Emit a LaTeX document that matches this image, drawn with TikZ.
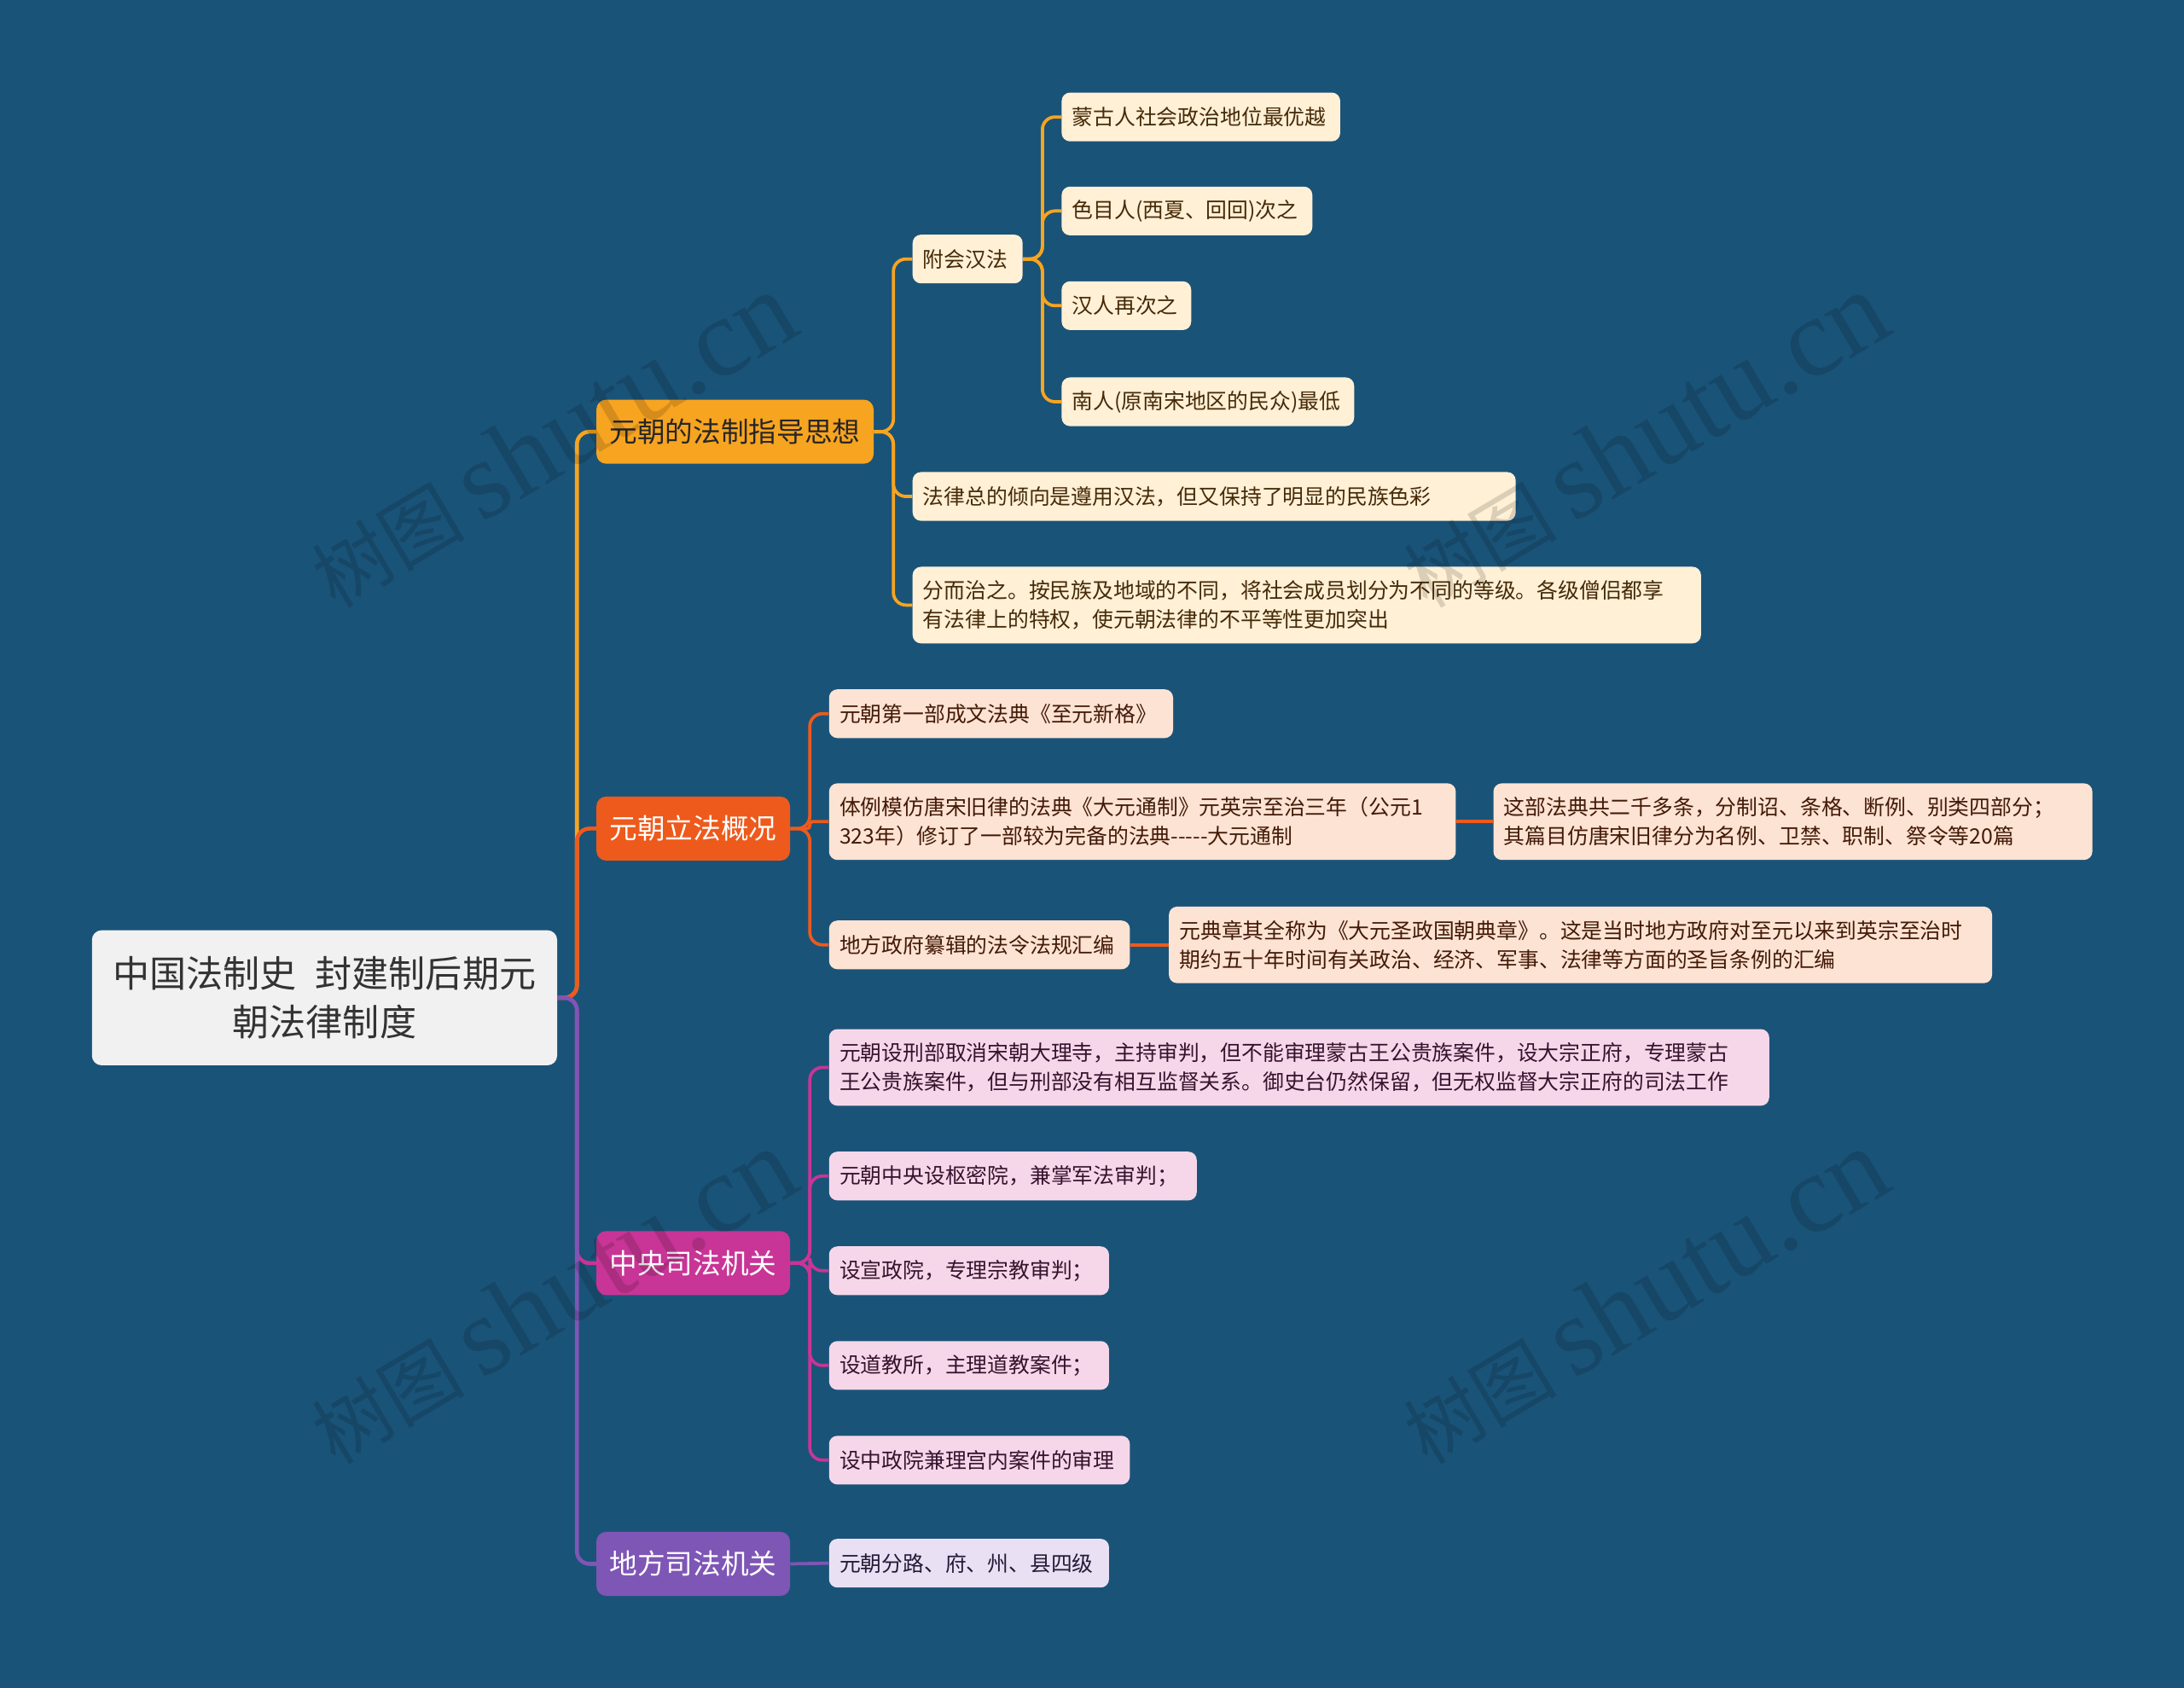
\documentclass[tikz,border=0pt]{standalone}
\usepackage{fontspec}
\setmainfont{Noto Sans CJK SC}
\newfontfamily\wmserif{Liberation Serif}
\definecolor{bg}{RGB}{26,83,120}
\definecolor{rootfill}{RGB}{241,241,241}
\definecolor{roottext}{RGB}{51,51,51}
\definecolor{bA}{RGB}{247,164,33}
\definecolor{bB}{RGB}{238,90,28}
\definecolor{bC}{RGB}{200,53,150}
\definecolor{bD}{RGB}{126,86,181}
\definecolor{lA}{RGB}{255,240,214}
\definecolor{lB}{RGB}{253,227,211}
\definecolor{lC}{RGB}{246,215,234}
\definecolor{lD}{RGB}{233,225,243}
\definecolor{tA}{RGB}{70,42,8}
\definecolor{tB}{RGB}{68,26,8}
\definecolor{tC}{RGB}{55,18,45}
\definecolor{tD}{RGB}{36,26,56}
\tikzset{
  rootbox/.style={fill=rootfill, text=roottext, rounded corners=7pt, minimum width=334pt, minimum height=97pt, align=center, inner sep=0pt, font=\fontsize{26.4}{35}\selectfont},
  branchbox/.style={rounded corners=7pt, minimum height=46pt, anchor=west, inner sep=0pt, font=\fontsize{20}{24}\selectfont},
  leafbox/.style={rounded corners=6pt, minimum height=35pt, anchor=west, align=left, inner xsep=7.5pt, inner ysep=0pt, font=\fontsize{15.2}{20.5}\selectfont},
  leaftwo/.style={leafbox, minimum height=55pt},
  leafA/.style={fill=lA, text=tA},
  leafB/.style={fill=lB, text=tB},
  leafC/.style={fill=lC, text=tC},
  leafD/.style={fill=lD, text=tD},
  toplink/.style={line width=2.8pt, rounded corners=9pt},
  sublink/.style={line width=2.3pt, rounded corners=9pt},
  wmark/.style={text=black, opacity=0.14, rotate=30.7, inner sep=0pt}
}
\begin{document}
\begin{tikzpicture}[x=1pt,y=-1pt]
\fill[bg] (0,0) rectangle (1568,1212);
\useasboundingbox (0,0) rectangle (1568,1212);

% root and branches
\node[rootbox] (root) at (233,716.5) {中国法制史\hspace{0.5em}封建制后期元\\朝法律制度};
\node[branchbox, fill=bA, text=black!85, minimum width=199pt] (b1) at (428,310) {元朝的法制指导思想};
\node[branchbox, fill=bB, text=white, minimum width=139pt] (b2) at (428,595) {元朝立法概况};
\node[branchbox, fill=bC, text=white, minimum width=139pt] (b3) at (428,907) {中央司法机关};
\node[branchbox, fill=bD, text=white, minimum width=139pt] (b4) at (428,1123) {地方司法机关};

% branch 1
\node[leafbox, leafA, text width=64pt] (a1) at (655,186) {附会汉法};
\node[leafbox, leafA, text width=418pt] (a2) at (655,356.5) {法律总的倾向是遵用汉法，但又保持了明显的民族色彩};
\node[leaftwo, leafA, text width=551pt] (a3) at (655,434.5) {分而治之。按民族及地域的不同，将社会成员划分为不同的等级。各级僧侣都享\\有法律上的特权，使元朝法律的不平等性更加突出};
\node[leafbox, leafA, text width=185pt] (a11) at (762,84) {蒙古人社会政治地位最优越};
\node[leafbox, leafA, text width=165pt] (a12) at (762,151.5) {色目人(西夏、回回)次之};
\node[leafbox, leafA, text width=78pt] (a13) at (762,219.5) {汉人再次之};
\node[leafbox, leafA, text width=195pt] (a14) at (762,288.5) {南人(原南宋地区的民众)最低};

% branch 2
\node[leafbox, leafB, text width=232pt] (c1) at (595,512.5) {元朝第一部成文法典《至元新格》};
\node[leaftwo, leafB, text width=435pt] (c2) at (595,590) {体例模仿唐宋旧律的法典《大元通制》元英宗至治三年（公元1\\323年）修订了一部较为完备的法典-\kern0pt-\kern0pt-\kern0pt-\kern0pt-大元通制};
\node[leafbox, leafB, text width=201pt] (c3) at (595,678.5) {地方政府纂辑的法令法规汇编};
\node[leaftwo, leafB, text width=415pt] (c21) at (1072,590) {这部法典共二千多条，分制诏、条格、断例、别类四部分；\\其篇目仿唐宋旧律分为名例、卫禁、职制、祭令等20篇};
\node[leaftwo, leafB, text width=576pt] (c31) at (839,678.5) {元典章其全称为《大元圣政国朝典章》。这是当时地方政府对至元以来到英宗至治时\\期约五十年时间有关政治、经济、军事、法律等方面的圣旨条例的汇编};

% branch 3
\node[leaftwo, leafC, text width=660pt] (d1) at (595,766.5) {元朝设刑部取消宋朝大理寺，主持审判，但不能审理蒙古王公贵族案件，设大宗正府，专理蒙古\\王公贵族案件，但与刑部没有相互监督关系。御史台仍然保留，但无权监督大宗正府的司法工作};
\node[leafbox, leafC, text width=249pt] (d2) at (595,844.5) {元朝中央设枢密院，兼掌军法审判；};
\node[leafbox, leafC, text width=186pt] (d3) at (595,912.5) {设宣政院，专理宗教审判；};
\node[leafbox, leafC, text width=186pt] (d4) at (595,980.5) {设道教所，主理道教案件；};
\node[leafbox, leafC, text width=201pt] (d5) at (595,1048.5) {设中政院兼理宫内案件的审理};

% branch 4
\node[leafbox, leafD, text width=186pt] (e1) at (595,1122.5) {元朝分路、府、州、县四级};

% connectors root -> branches
\draw[toplink, bA] (root.east) -- ++(14,0) |- (b1.west);
\draw[toplink, bB] (root.east) -- ++(14,0) |- (b2.west);
\draw[toplink, bC] (root.east) -- ++(14,0) |- (b3.west);
\draw[toplink, bD] (root.east) -- ++(14,0) |- (b4.west);

% branch 1 connectors
\foreach \c in {a1,a2,a3} \draw[sublink, bA] (b1.east) -- ++(14,0) |- (\c.west);
\foreach \c in {a11,a12,a13,a14} \draw[sublink, bA] (a1.east) -- ++(14,0) |- (\c.west);

% branch 2 connectors
\draw[sublink, bB] (b2.east) -- ++(14,0) |- (c1.west);
\draw[sublink, bB, rounded corners=2pt] (b2.east) -- ++(14,0) |- (c2.west);
\draw[sublink, bB] (b2.east) -- ++(14,0) |- (c3.west);
\draw[sublink, bB] (c2.east) -- (c21.west);
\draw[sublink, bB] (c3.east) -- (c31.west);

% branch 3 connectors
\foreach \c in {d1,d2,d3,d4,d5} \draw[sublink, bC] (b3.east) -- ++(14,0) |- (\c.west);

% branch 4 connector
\draw[sublink, bD] (b4.east) -- (e1.west);

% watermarks
\node[wmark] (w1) at (396,316) {\fontsize{55}{60}\selectfont 树图\hspace{12pt}{\wmserif\fontsize{80}{80}\selectfont shutu.cn}};
\node[wmark] (w2) at (1180,316) {\fontsize{55}{60}\selectfont 树图\hspace{12pt}{\wmserif\fontsize{80}{80}\selectfont shutu.cn}};
\node[wmark] (w3) at (396,931) {\fontsize{55}{60}\selectfont 树图\hspace{12pt}{\wmserif\fontsize{80}{80}\selectfont shutu.cn}};
\node[wmark] (w4) at (1180,931) {\fontsize{55}{60}\selectfont 树图\hspace{12pt}{\wmserif\fontsize{80}{80}\selectfont shutu.cn}};
\end{tikzpicture}
\end{document}
